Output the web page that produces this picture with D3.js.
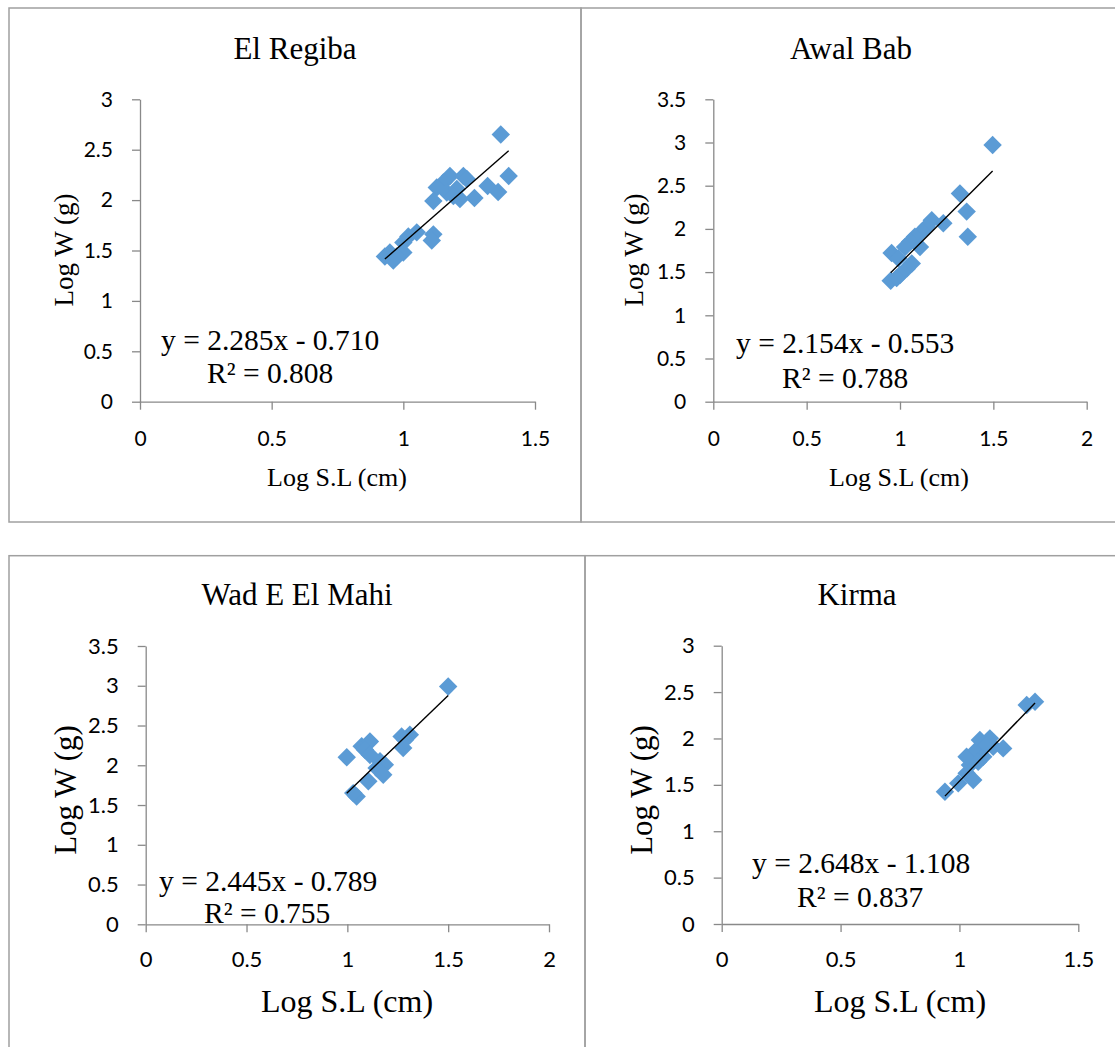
<!DOCTYPE html>
<html>
<head>
<meta charset="utf-8">
<script src="https://cdn.jsdelivr.net/npm/d3@7"></script>
<style>
  html, body { margin: 0; padding: 0; background: #fff; }
  svg { display: block; }
</style>
</head>
<body>
<svg id="chart" width="1115" height="1047"></svg>
<script>
// ---------- DATA ----------
const panelTitles = ["El Regiba", "Awal Bab", "Wad E El Mahi", "Kirma"];
const xAxisTitle = "Log S.L (cm)";
const yAxisTitle = "Log W (g)";

const regibaX = [1.37, 1.40, 1.36, 1.32, 1.27, 1.215, 1.177, 1.228, 1.152, 1.127, 1.114, 1.165, 1.203, 1.241, 1.19, 1.114, 1.108, 1.051, 1.019, 1.0, 1.0, 0.962, 0.93, 0.949, 0.975];
const regibaY = [2.65, 2.24, 2.08, 2.14, 2.02, 2.01, 2.24, 2.24, 2.175, 2.125, 1.99, 2.075, 2.11, 2.21, 2.04, 1.66, 1.60, 1.68, 1.64, 1.58, 1.48, 1.40, 1.44, 1.48, 1.44];

const awalX = [1.496, 1.321, 1.357, 1.363, 1.232, 1.17, 1.143, 1.116, 1.08, 1.054, 1.107, 1.027, 0.955, 0.991, 1.063, 1.036, 1.0, 0.95, 0.982];
const awalY = [2.97, 2.41, 2.20, 1.91, 2.065, 2.10, 2.025, 1.968, 1.91, 1.85, 1.79, 1.79, 1.72, 1.66, 1.60, 1.54, 1.466, 1.40, 1.43];

const wadX = [1.50, 0.997, 1.071, 1.112, 1.087, 1.112, 1.162, 1.186, 1.145, 1.178, 1.104, 1.046, 1.029, 1.269, 1.31, 1.277, 1.286];
const wadY = [2.99, 2.10, 2.24, 2.30, 2.195, 2.13, 2.05, 2.006, 1.965, 1.88, 1.80, 1.607, 1.65, 2.363, 2.384, 2.216, 2.32];

const kirmaX = [1.318, 1.283, 0.939, 0.995, 1.058, 1.03, 1.044, 1.03, 1.072, 1.10, 1.086, 1.128, 1.142, 1.184, 1.114, 1.079];
const kirmaY = [2.395, 2.36, 1.426, 1.516, 1.552, 1.624, 1.713, 1.803, 1.875, 1.803, 1.983, 2.001, 1.91, 1.893, 1.929, 1.749];

const slopes = [2.285, 2.154, 2.445, 2.648];
const intercepts = [-0.710, -0.553, -0.789, -1.108];
const equationLabels = ["y = 2.285x - 0.710", "y = 2.154x - 0.553", "y = 2.445x - 0.789", "y = 2.648x - 1.108"];
const r2Labels = ["R² = 0.808", "R² = 0.788", "R² = 0.755", "R² = 0.837"];

const xMaxes = [1.5, 2, 2, 1.5];
const yMaxes = [3, 3.5, 3.5, 3];
const xTicks = [[0, 0.5, 1, 1.5], [0, 0.5, 1, 1.5, 2], [0, 0.5, 1, 1.5, 2], [0, 0.5, 1, 1.5]];
const yTicks = [[0, 0.5, 1, 1.5, 2, 2.5, 3], [0, 0.5, 1, 1.5, 2, 2.5, 3, 3.5], [0, 0.5, 1, 1.5, 2, 2.5, 3, 3.5], [0, 0.5, 1, 1.5, 2, 2.5, 3]];

const seriesX = [regibaX, awalX, wadX, kirmaX];
const seriesY = [regibaY, awalY, wadY, kirmaY];

// ---------- LAYOUT (pixels) ----------
const layout = [
  { px0: 140, px1: 535, py0: 401.7, py1: 99.3,
    title: [295, 59, 31], xt: [337, 486, 26], yt: [73, 250, 27], eq: [161, 350], r2: [207, 383], eqSize: 29.5, tickSize: 21, xtickOff: 37 },
  { px0: 713.3, px1: 1086.7, py0: 401.7, py1: 99.3,
    title: [851, 59, 31], xt: [899, 486, 26], yt: [643, 250, 27], eq: [736, 353], r2: [782, 388], eqSize: 29.5, tickSize: 21, xtickOff: 37 },
  { px0: 145.7, px1: 549, py0: 924.3, py1: 646,
    title: [297, 605, 31], xt: [347, 1012, 32], yt: [76, 790, 31], eq: [159, 891], r2: [204, 923], eqSize: 29.5, tickSize: 22, xtickOff: 35 },
  { px0: 721.7, px1: 1078.3, py0: 924, py1: 645.7,
    title: [857, 605, 31], xt: [900, 1012, 32], yt: [652, 790, 31], eq: [752, 873], r2: [797, 907], eqSize: 29.5, tickSize: 22, xtickOff: 35 }
];

const serif = "'Liberation Serif', 'Times New Roman', serif";
const sans = "Lato, 'Liberation Sans', sans-serif";
const markerColor = "#5B9BD5";
const axisColor = "#898989";
const frameColor = "#a0a0a0";

const svg = d3.select("#chart");
svg.append("rect").attr("width", 1115).attr("height", 1047).attr("fill", "#fff");

// panel frames
const frames = svg.append("g").attr("fill", "none").attr("stroke", frameColor).attr("stroke-width", 1.5);
frames.append("rect").attr("x", 9).attr("y", 8).attr("width", 572).attr("height", 514);
frames.append("rect").attr("x", 581).attr("y", 8).attr("width", 560).attr("height", 514);
frames.append("rect").attr("x", 9).attr("y", 555.7).attr("width", 576).attr("height", 520);
frames.append("rect").attr("x", 585).attr("y", 555.7).attr("width", 560).attr("height", 520);

const diamond = d3.symbol().type(d3.symbolSquare).size(170);

layout.forEach((L, i) => {
  const g = svg.append("g");
  const x = d3.scaleLinear().domain([0, xMaxes[i]]).range([L.px0, L.px1]);
  const y = d3.scaleLinear().domain([0, yMaxes[i]]).range([L.py0, L.py1]);

  // y axis
  const ya = g.append("g").attr("transform", `translate(${L.px0},0)`)
    .call(d3.axisLeft(y).tickValues(yTicks[i]).tickFormat(d3.format("")).tickSize(8).tickSizeOuter(0).tickPadding(19));
  // x axis
  const xa = g.append("g").attr("transform", `translate(0,${L.py0})`)
    .call(d3.axisBottom(x).tickValues(xTicks[i]).tickFormat(d3.format("")).tickSize(8).tickSizeOuter(0));
  [ya, xa].forEach(a => {
    a.select(".domain").attr("stroke", axisColor).attr("stroke-width", 1.3);
    a.selectAll(".tick line").attr("stroke", axisColor).attr("stroke-width", 1.3);
    a.selectAll(".tick text").attr("fill", "#000").style("font-family", sans).style("font-size", L.tickSize + "px");
  });
  xa.selectAll(".tick text").attr("dy", "0.35em").attr("y", L.xtickOff);

  // markers
  const pts = seriesX[i].map((v, k) => [v, seriesY[i][k]]);
  g.append("g").selectAll("path").data(pts).join("path")
    .attr("d", diamond)
    .attr("transform", d => `translate(${x(d[0])},${y(d[1])}) rotate(45)`)
    .attr("fill", markerColor);

  // trend line
  const xr = d3.extent(seriesX[i]);
  const f = v => slopes[i] * v + intercepts[i];
  g.append("line")
    .attr("x1", x(xr[0])).attr("y1", y(f(xr[0])))
    .attr("x2", x(xr[1])).attr("y2", y(f(xr[1])))
    .attr("stroke", "#000").attr("stroke-width", 1.4);

  // equation
  g.append("text").attr("x", L.eq[0]).attr("y", L.eq[1])
    .style("font-family", serif).style("font-size", L.eqSize + "px").text(equationLabels[i]);
  g.append("text").attr("x", L.r2[0]).attr("y", L.r2[1])
    .style("font-family", serif).style("font-size", L.eqSize + "px").text(r2Labels[i]);

  // title
  g.append("text").attr("x", L.title[0]).attr("y", L.title[1]).attr("text-anchor", "middle")
    .style("font-family", serif).style("font-size", L.title[2] + "px").text(panelTitles[i]);
  // axis titles
  g.append("text").attr("x", L.xt[0]).attr("y", L.xt[1]).attr("text-anchor", "middle")
    .style("font-family", serif).style("font-size", L.xt[2] + "px").text(xAxisTitle);
  g.append("text").attr("transform", `translate(${L.yt[0]},${L.yt[1]}) rotate(-90)`).attr("text-anchor", "middle")
    .style("font-family", serif).style("font-size", L.yt[2] + "px").text(yAxisTitle);
});
</script>
</body>
</html>
